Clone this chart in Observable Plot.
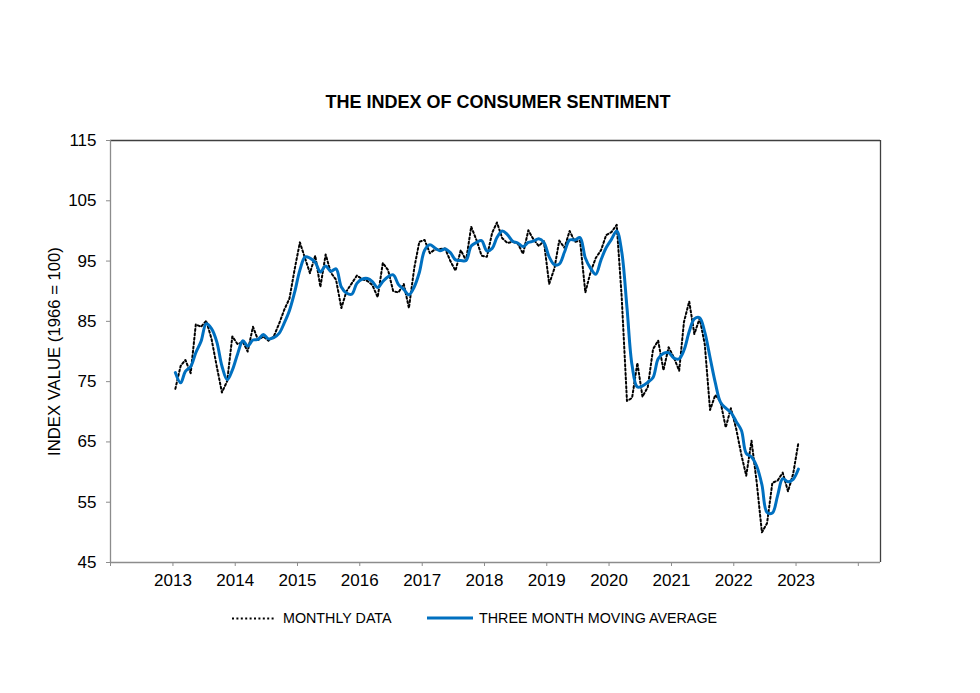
<!DOCTYPE html>
<html><head><meta charset="utf-8">
<script src="https://cdn.jsdelivr.net/npm/d3@7"></script>
<script src="https://cdn.jsdelivr.net/npm/@observablehq/plot@0.6"></script>
<style>
body{margin:0;background:#fff;font-family:"Liberation Sans",Arial,sans-serif;color:#000;}
#wrap{position:relative;width:980px;height:693px;overflow:hidden;}
#title{position:absolute;top:92px;left:0;width:996px;text-align:center;font-weight:bold;font-size:18px;line-height:21px;}
#chart{position:absolute;top:120px;left:0;}
.lg{position:absolute;top:609px;font-size:14.3px;line-height:18px;white-space:nowrap;}
.sw{position:absolute;top:609px;}
</style></head>
<body>
<div id="wrap">
  <div id="title">THE INDEX OF CONSUMER SENTIMENT</div>
  <div id="chart"></div>
  <svg class="sw" style="left:231px" width="45" height="18"><line x1="1" y1="9.5" x2="44" y2="9.5" stroke="#000" stroke-width="2" stroke-dasharray="2,2.4"/></svg>
  <div class="lg" style="left:283px">MONTHLY DATA</div>
  <svg class="sw" style="left:426px" width="48" height="18"><line x1="1" y1="9" x2="47" y2="9" stroke="#0070C0" stroke-width="3"/></svg>
  <div class="lg" style="left:479px">THREE MONTH MOVING AVERAGE</div>
</div>
<script>
// Monthly index values, Jan 2013 .. Jan 2023
const monthly = [
  73.8, 77.6, 78.6, 76.4, 84.5, 84.1, 85.1, 82.1, 77.5, 73.2, 75.1, 82.5,
  81.2, 81.6, 80.0, 84.1, 81.9, 82.5, 81.8, 82.5, 84.6, 86.9, 88.8, 93.6,
  98.1, 95.4, 93.0, 95.9, 90.7, 96.1, 93.1, 91.9, 87.2, 90.0, 91.3, 92.6,
  92.0, 91.7, 91.0, 89.0, 94.7, 93.5, 90.0, 89.8, 91.2, 87.2, 93.8, 98.2,
  98.5, 96.3, 96.9, 97.0, 97.1, 95.0, 93.4, 96.8, 95.1, 100.7, 98.5, 95.9,
  95.7, 99.7, 101.4, 98.8, 98.0, 98.2, 97.9, 96.2, 100.1, 98.6, 97.5, 98.3,
  91.2, 93.8, 98.4, 97.2, 100.0, 98.2, 98.4, 89.8, 93.2, 95.5, 96.8, 99.3,
  99.8, 101.0, 89.1, 71.8, 72.3, 78.1, 72.5, 74.1, 80.4, 81.8, 76.9, 80.7,
  79.0, 76.8, 84.9, 88.3, 82.9, 85.5, 81.2, 70.3, 72.8, 71.7, 67.4, 70.6,
  67.2, 62.8, 59.4, 65.2, 58.4, 50.0, 51.5, 58.2, 58.6, 59.9, 56.8, 59.7,
  64.9
];
// Three month moving average, Jan 2013 .. Jan 2023
const movingAvg = [
  76.5, 74.8, 76.7, 77.5, 79.8, 81.7, 84.6, 83.8, 81.6, 77.6, 75.3, 76.9,
  79.6, 81.8, 80.9, 81.9, 82.0, 82.8, 82.1, 82.3, 83.0, 84.7, 86.8, 89.8,
  93.5, 95.7, 95.5, 94.8, 93.2, 94.2, 93.3, 93.7, 90.7, 89.7, 89.5, 91.3,
  92.0, 92.1, 91.6, 90.6, 91.6, 92.4, 92.7, 91.1, 90.3, 89.4, 90.7, 93.1,
  96.8, 97.7, 97.2, 96.7, 97.0, 96.4, 95.2, 95.1, 95.1, 97.5, 98.1, 98.4,
  96.7, 97.1, 98.9, 100.0, 99.4, 98.3, 98.0, 97.4, 98.1, 98.3, 98.7, 98.1,
  95.7, 94.4, 94.5, 96.5, 98.5, 98.5, 98.9, 95.5, 93.8, 92.8, 95.2, 97.2,
  98.6, 100.0, 96.6, 87.3, 77.7, 74.1, 74.3, 74.9, 75.7, 78.8, 79.7, 79.8,
  78.9, 78.8, 80.2, 83.3, 85.4, 85.6, 83.2, 79.0, 74.8, 71.6, 70.6, 69.9,
  68.4, 66.9, 63.1, 62.5, 61.0, 57.9, 53.3, 53.2, 56.1, 58.9, 58.4, 58.8,
  60.5
];
const firstYear = 2013;
const yTicks = [45, 55, 65, 75, 85, 95, 105, 115];
const xTickYears = [2012, 2013, 2014, 2015, 2016, 2017, 2018, 2019, 2020, 2021, 2022, 2023, 2024];
const xLabelYears = [2013, 2014, 2015, 2016, 2017, 2018, 2019, 2020, 2021, 2022, 2023];
const yLabel = "INDEX VALUE (1966 = 100)";

const data = monthly.map((v, i) => ({
  date: new Date(Date.UTC(firstYear, i, 15)),
  monthly: v,
  avg: movingAvg[i]
}));
const xMin = new Date(Date.UTC(2012, 0, 1));
const xMax = new Date(Date.UTC(2024, 4, 10));
const tickDates = xTickYears.map(y => new Date(Date.UTC(y, 0, 1)));

const chart = Plot.plot({
  width: 980,
  height: 480,
  marginTop: 20,
  marginBottom: 38,
  marginLeft: 110,
  marginRight: 100,
  style: {fontFamily: '"Liberation Sans", Arial, sans-serif', fontSize: "17px", color: "#000", background: "#fff"},
  x: {type: "utc", domain: [xMin, xMax]},
  y: {domain: [45, 115]},
  marks: [
    Plot.ruleY([115], {stroke: "#3f3f3f", strokeWidth: 1.3}),
    Plot.ruleX([xMax], {stroke: "#3f3f3f", strokeWidth: 1.3}),
    Plot.ruleX([xMin], {stroke: "#8c8c8c", strokeWidth: 1.3}),
    Plot.ruleY([45], {stroke: "#8c8c8c", strokeWidth: 1.3}),
    Plot.axisY({ticks: yTicks, tickSize: 4, tickPadding: 10, stroke: "#8c8c8c", fill: "#000", label: null, fontSize: 17}),
    Plot.axisX({ticks: tickDates, tickSize: 4, tickPadding: 7, stroke: "#8c8c8c", fill: "#000", label: null, fontSize: 17,
      tickFormat: d => xLabelYears.includes(d.getUTCFullYear()) ? String(d.getUTCFullYear()) : ""}),
    Plot.line(data, {x: "date", y: "monthly", stroke: "#000", strokeWidth: 2, strokeDasharray: "2,2.4"}),
    Plot.line(data, {x: "date", y: "avg", stroke: "#0070C0", strokeWidth: 3, curve: "catmull-rom"}),
    Plot.text([yLabel], {frameAnchor: "left", dx: -56, rotate: -90, textAnchor: "middle", lineAnchor: "middle", fontSize: 16.7, fill: "#000"})
  ]
});
document.getElementById("chart").appendChild(chart);
</script>
</body></html>
